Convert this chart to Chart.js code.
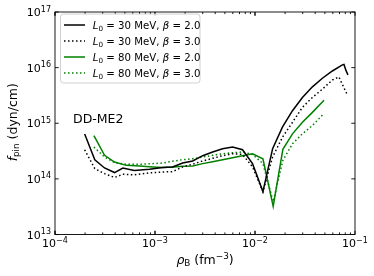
<!DOCTYPE html>
<html><head><meta charset="utf-8">
<script src="https://cdn.jsdelivr.net/npm/chart.js@4/dist/chart.umd.min.js"></script>
<style>html,body{margin:0;padding:0;background:#fff;overflow:hidden}</style>
</head><body>
<canvas id="c" width="374" height="276" style="width:374px;height:276px;display:block"></canvas>
<script>
// ---- data ----
const rhoA = [1.98e-4, 2.5e-4, 3.13e-4, 3.94e-4, 4.77e-4, 6.2e-4, 8.8e-4, 1.19e-3, 1.5e-3, 1.89e-3, 2.38e-3, 3.0e-3, 3.77e-3, 4.74e-3, 5.97e-3, 7.5e-3, 9.45e-3, 1.2e-2, 1.5e-2, 1.88e-2, 2.37e-2, 2.98e-2, 3.75e-2, 4.72e-2, 5.94e-2, 7.47e-2, 7.76e-2, 8.1e-2, 8.5e-2];
const fA   = [6.4e14, 2.2e14, 1.57e14, 1.3e14, 1.57e14, 1.41e14, 1.49e14, 1.6e14, 1.64e14, 1.93e14, 2.1e14, 2.61e14, 3.04e14, 3.48e14, 3.73e14, 3.34e14, 1.88e14, 5.9e13, 3.48e14, 8.5e14, 1.68e15, 2.91e15, 4.52e15, 6.45e15, 8.7e15, 1.12e16, 1.14e16, 9.0e15, 7.4e15];

const rhoB = [1.98e-4, 2.5e-4, 3.13e-4, 3.94e-4, 4.77e-4, 6.2e-4, 8.8e-4, 1.19e-3, 1.5e-3, 1.89e-3, 2.38e-3, 3.0e-3, 3.77e-3, 4.74e-3, 5.97e-3, 7.5e-3, 9.45e-3, 1.2e-2, 1.5e-2, 1.88e-2, 2.37e-2, 2.98e-2, 3.75e-2, 4.72e-2, 5.94e-2, 6.9e-2, 7.47e-2, 8.4e-2];
const fB   = [3.34e14, 1.53e14, 1.24e14, 1.06e14, 1.21e14, 1.18e14, 1.28e14, 1.33e14, 1.35e14, 1.64e14, 1.83e14, 2.1e14, 2.34e14, 2.61e14, 2.83e14, 2.75e14, 1.64e14, 5.9e13, 2.47e14, 5.6e14, 1.04e15, 1.93e15, 2.91e15, 4.1e15, 6.0e15, 6.8e15, 5.0e15, 3.2e15];

const rhoC = [2.45e-4, 3.13e-4, 3.94e-4, 5.15e-4, 7.0e-4, 9.5e-4, 1.19e-3, 1.56e-3, 1.89e-3, 2.38e-3, 3.0e-3, 3.77e-3, 4.74e-3, 5.97e-3, 7.5e-3, 9.45e-3, 1.2e-2, 1.52e-2, 1.9e-2, 2.37e-2, 2.98e-2, 3.75e-2, 4.9e-2];
const fC   = [6.0e14, 2.65e14, 2.01e14, 1.75e14, 1.71e14, 1.64e14, 1.6e14, 1.64e14, 1.68e14, 1.71e14, 1.88e14, 2.04e14, 2.21e14, 2.4e14, 2.61e14, 2.83e14, 2.3e14, 3.2e13, 3.4e14, 6.45e14, 1.04e15, 1.57e15, 2.6e15];

const rhoD = [2.45e-4, 3.13e-4, 3.94e-4, 5.15e-4, 7.0e-4, 9.5e-4, 1.19e-3, 1.56e-3, 1.89e-3, 2.38e-3, 3.0e-3, 3.77e-3, 4.74e-3, 5.97e-3, 7.5e-3, 9.45e-3, 1.2e-2, 1.52e-2, 1.9e-2, 2.37e-2, 2.98e-2, 3.75e-2, 4.9e-2];
const fD   = [3.73e14, 2.47e14, 1.96e14, 1.83e14, 1.83e14, 1.88e14, 1.93e14, 2.1e14, 2.21e14, 2.3e14, 2.47e14, 2.65e14, 2.83e14, 2.95e14, 3.04e14, 2.75e14, 1.88e14, 3.9e13, 2.15e14, 4.28e14, 6.45e14, 9.1e14, 1.5e15];

const legendL0   = [30, 30, 80, 80];
const legendBeta = ["2.0", "3.0", "2.0", "3.0"];
const xTickVals = [1e-4, 1e-3, 1e-2, 1e-1];
const xTickExp  = ["\u22124", "\u22123", "\u22122", "\u22121"];
const yTickVals = [1e13, 1e14, 1e15, 1e16, 1e17];
const yTickExp  = ["13", "14", "15", "16", "17"];
const annotation = "DD-ME2";

// ---- styling ----
const FONT = '"DejaVu Sans"';
const GREEN = '#008000';
const colors = ['#000000', '#000000', GREEN, GREEN];
const dashes = [[], [1.5, 2.5], [], [1.5, 2.5]];
const series = [[rhoA, fA], [rhoB, fB], [rhoC, fC], [rhoD, fD]];
const labels = legendL0.map((l, i) => `L\u2080 = ${l} MeV, \u03b2 = ${legendBeta[i]}`);

const datasets = series.map((s, i) => ({
  label: labels[i],
  data: s[0].map((x, j) => ({x: x, y: s[1][j]})),
  borderColor: colors[i], backgroundColor: colors[i],
  borderWidth: 1.5, borderDash: dashes[i], borderCapStyle: 'butt',
  pointRadius: 0, tension: 0, fill: false
}));

function rich(ctx, segs, x, y, align) {
  let w = 0;
  segs.forEach(s => { ctx.font = (s.it ? 'italic ' : '') + s.size + 'px ' + FONT; s.w = ctx.measureText(s.t).width; w += s.w; });
  let cx = align === 'center' ? x - w / 2 : align === 'right' ? x - w : x;
  ctx.textAlign = 'left'; ctx.textBaseline = 'alphabetic';
  segs.forEach(s => { ctx.font = (s.it ? 'italic ' : '') + s.size + 'px ' + FONT; ctx.fillText(s.t, cx, y + (s.dy || 0)); cx += s.w; });
}

const decor = {
  id: 'decor',
  afterDraw(chart) {
    const ctx = chart.ctx, a = chart.chartArea, xs = chart.scales.x, ys = chart.scales.y;
    ctx.save();
    ctx.fillStyle = '#000';
    // frame
    ctx.strokeStyle = '#000'; ctx.lineWidth = 0.9;
    ctx.strokeRect(a.left, a.top, a.right - a.left, a.bottom - a.top);
    // ticks (inward, all sides)
    ctx.beginPath();
    for (let d = -4; d < -1; d++) {
      for (let m = 1; m <= 9; m++) {
        const v = m * Math.pow(10, d);
        const px = xs.getPixelForValue(v);
        const len = m === 1 ? 3.7 : 2.1;
        ctx.moveTo(px, a.bottom); ctx.lineTo(px, a.bottom - len);
        ctx.moveTo(px, a.top); ctx.lineTo(px, a.top + len);
      }
    }
    xTickVals.forEach(v => { const px = xs.getPixelForValue(v);
      ctx.moveTo(px, a.bottom); ctx.lineTo(px, a.bottom - 3.7);
      ctx.moveTo(px, a.top); ctx.lineTo(px, a.top + 3.7); });
    yTickVals.forEach(v => { const py = ys.getPixelForValue(v);
      ctx.moveTo(a.left, py); ctx.lineTo(a.left + 3.7, py);
      ctx.moveTo(a.right, py); ctx.lineTo(a.right - 3.7, py); });
    ctx.stroke();
    // tick labels
    xTickVals.forEach((v, i) => rich(ctx, [{t: '10', size: 11}, {t: xTickExp[i], size: 8, dy: -4.5}], xs.getPixelForValue(v), a.bottom + 12.5, 'center'));
    yTickVals.forEach((v, i) => rich(ctx, [{t: '10', size: 11}, {t: yTickExp[i], size: 8, dy: -4.5}], a.left - 4, ys.getPixelForValue(v) + 4, 'right'));
    // axis titles
    rich(ctx, [{t: '\u03c1', size: 12.5, it: true}, {t: 'B', size: 8.8, dy: 2}, {t: ' (fm', size: 12.5}, {t: '\u22123', size: 8.8, dy: -5}, {t: ')', size: 12.5}], (a.left + a.right) / 2, 264, 'center');
    ctx.save(); ctx.translate(17, (a.top + a.bottom) / 2 - 1); ctx.rotate(-Math.PI / 2);
    rich(ctx, [{t: 'f', size: 12.5, it: true}, {t: 'pin', size: 8.8, dy: 2}, {t: ' (dyn/cm)', size: 12.5}], 0, 0, 'center');
    ctx.restore();
    // annotation
    ctx.font = '12.5px ' + FONT; ctx.textAlign = 'left'; ctx.fillText(annotation, 73, 123);
    // legend
    const bx = 60.5, by = 14, bw = 139.5, bh = 69, r = 3;
    ctx.beginPath();
    ctx.moveTo(bx + r, by); ctx.arcTo(bx + bw, by, bx + bw, by + bh, r); ctx.arcTo(bx + bw, by + bh, bx, by + bh, r);
    ctx.arcTo(bx, by + bh, bx, by, r); ctx.arcTo(bx, by, bx + bw, by, r); ctx.closePath();
    ctx.fillStyle = 'rgba(255,255,255,0.8)'; ctx.fill();
    ctx.strokeStyle = '#cccccc'; ctx.lineWidth = 0.9; ctx.stroke();
    chart.data.datasets.forEach((ds, i) => {
      const cy = 25 + 16 * i;
      ctx.beginPath(); ctx.strokeStyle = ds.borderColor; ctx.lineWidth = 1.5; ctx.lineCap = 'butt';
      ctx.setLineDash(ds.borderDash); ctx.moveTo(64, cy); ctx.lineTo(85, cy); ctx.stroke(); ctx.setLineDash([]);
      ctx.fillStyle = '#000';
      rich(ctx, [{t: 'L', size: 10.2, it: true}, {t: '0', size: 7.2, dy: 2}, {t: ` = ${legendL0[i]} MeV, `, size: 10.2}, {t: '\u03b2', size: 10.2, it: true}, {t: ` = ${legendBeta[i]}`, size: 10.2}], 92.7, cy + 4, 'left');
    });
    ctx.restore();
  }
};

new Chart(document.getElementById('c'), {
  type: 'line',
  data: {datasets: datasets},
  options: {
    responsive: false, animation: false, devicePixelRatio: 1,
    layout: {padding: {left: 0, right: 19, top: 12, bottom: 0}},
    plugins: {legend: {display: false}, tooltip: {enabled: false}},
    scales: {
      x: {type: 'logarithmic', min: 1e-4, max: 1e-1, grid: {display: false}, border: {display: false},
          ticks: {display: false}, afterFit: s => { s.height = 41.5; }},
      y: {type: 'logarithmic', min: 1e13, max: 1e17, grid: {display: false}, border: {display: false},
          ticks: {display: false}, afterFit: s => { s.width = 55; }}
    }
  },
  plugins: [decor]
});
</script>
</body></html>
